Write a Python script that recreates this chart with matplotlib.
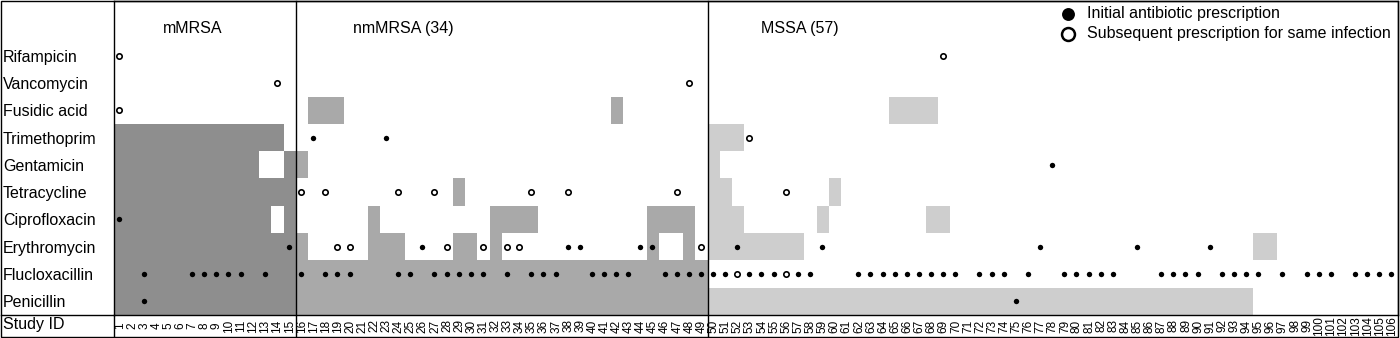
import numpy as np
import matplotlib
matplotlib.use("Agg")
import matplotlib.pyplot as plt
from matplotlib.lines import Line2D
from matplotlib.patches import Rectangle

plt.rcParams["font.family"] = ["Liberation Sans", "DejaVu Sans"]

# antibiotics from bottom row to top row
antibiotics = ["Penicillin", "Flucloxacillin", "Erythromycin", "Ciprofloxacin", "Tetracycline",
               "Gentamicin", "Trimethoprim", "Fusidic acid", "Vancomycin", "Rifampicin"]
study_ids = list(range(1, 107))

groups = ["mMRSA", "nmMRSA (34)", "MSSA (57)"]
group_first_id = [1, 16, 50]
group_last_id = [15, 49, 106]
group_colors = ["#8e8e8e", "#a9a9a9", "#cecece"]

# resistant cells as (first study ID, last study ID) spans
resistant_spans = {
    "Rifampicin": [],
    "Vancomycin": [],
    "Fusidic acid": [(17, 19), (42, 42), (65, 68)],
    "Trimethoprim": [(1, 14), (50, 52)],
    "Gentamicin": [(1, 12), (15, 15), (16, 16), (50, 50)],
    "Tetracycline": [(1, 15), (29, 29), (50, 51), (60, 60)],
    "Ciprofloxacin": [(1, 13), (15, 15), (22, 22), (32, 35), (45, 48), (50, 52), (59, 59), (68, 69)],
    "Erythromycin": [(1, 15), (16, 16), (22, 24), (29, 30), (32, 32), (45, 45), (48, 48),
                     (50, 57), (95, 96)],
    "Flucloxacillin": [(1, 15), (16, 49)],
    "Penicillin": [(1, 15), (16, 49), (50, 94)],
}

initial_rx = {
    "Trimethoprim": [17, 23],
    "Gentamicin": [78],
    "Ciprofloxacin": [1],
    "Erythromycin": [15, 26, 38, 39, 44, 45, 52, 59, 77, 85, 91],
    "Flucloxacillin": [3, 7, 8, 9, 10, 11, 13, 16, 18, 19, 20, 24, 25, 27, 28, 29, 30, 31, 33,
                       35, 36, 37, 40, 41, 42, 43, 46, 47, 48, 49, 50, 51, 53, 54, 55, 57, 58,
                       62, 63, 64, 65, 66, 67, 68, 69, 70, 72, 73, 74, 76, 79, 80, 81, 82, 83,
                       87, 88, 89, 90, 92, 93, 94, 95, 97, 99, 100, 101, 103, 104, 105, 106],
    "Penicillin": [3, 75],
}

subsequent_rx = {
    "Rifampicin": [1, 69],
    "Vancomycin": [14, 48],
    "Fusidic acid": [1],
    "Trimethoprim": [53],
    "Tetracycline": [16, 18, 24, 27, 35, 38, 47, 56],
    "Erythromycin": [19, 20, 28, 31, 33, 34, 49],
    "Flucloxacillin": [52, 56],
}

W, H = 1400, 338
fig = plt.figure(figsize=(W / 100, H / 100), dpi=100)
ax = fig.add_axes([114 / W, (H - 315) / H, (1398 - 114) / W, (315 - 1) / H])
ax.set_xlim(0, 106)
ax.set_ylim(0, 11.5)


def group_color(sid):
    for first, last, col in zip(group_first_id, group_last_id, group_colors):
        if first <= sid <= last:
            return col
    return "white"


# shaded cells
for row, drug in enumerate(antibiotics):
    for first, last in resistant_spans[drug]:
        ax.bar(first - 1, 1, width=last - first + 1, bottom=row, align="edge",
               color=group_color(first), linewidth=0, zorder=1)

# prescriptions
for row, drug in enumerate(antibiotics):
    ids = np.array(initial_rx.get(drug, []))
    if len(ids):
        ax.scatter(ids - 0.55, np.full(len(ids), row + 0.5), s=15, color="black",
                   linewidths=0, zorder=4)
    ids = np.array(subsequent_rx.get(drug, []))
    if len(ids):
        ax.scatter(ids - 0.55, np.full(len(ids), row + 0.5), s=15, facecolor="white",
                   edgecolor="black", linewidths=1.2, zorder=4)

# legend
h1 = ax.scatter([], [], s=15, color="black", linewidths=0)
h2 = ax.scatter([], [], s=15, facecolor="white", edgecolor="black", linewidths=1.8)
ax.legend([h1, h2], ["Initial antibiotic prescription", "Subsequent prescription for same infection"],
          loc="upper left", bbox_to_anchor=(1060 / W, 1 - 6 / H), bbox_transform=fig.transFigure,
          frameon=False, markerscale=2.4, fontsize=11.5, handlelength=1.0, handletextpad=0.7,
          labelspacing=0.3, borderpad=0, borderaxespad=0)

# group titles
for name, xpos in zip(groups, [6.5, 23.9, 56.6]):
    ax.text(xpos, 10.5, name, ha="center", va="center", fontsize=11.5)

# group separators through the Study ID row
ext = -22 / 314
for last in group_last_id[:-1]:
    ax.axvline(last, ymin=ext, ymax=1, color="black", lw=1.0, clip_on=False, zorder=5)
ax.axvline(0, ymin=ext, ymax=0, color="black", lw=1.0, clip_on=False, zorder=5)

for sp in ax.spines.values():
    sp.set_linewidth(1.0)

ax.set_xticks(np.array(study_ids) - 0.5, labels=[str(i) for i in study_ids],
              rotation=90, fontsize=8.5)
for lbl in ax.get_xticklabels():
    lbl.set_va("center")
ax.tick_params(axis="x", length=0, pad=7.9)

ax.set_yticks(np.arange(len(antibiotics)) + 0.5, labels=antibiotics, fontsize=11.5)
for lbl in ax.get_yticklabels():
    lbl.set_ha("left")
ax.tick_params(axis="y", length=0, pad=80)

fig.text(3 / W, (H - 325) / H, "Study ID", ha="left", va="center", fontsize=11.5)

# outer frame and label-column line
fig.add_artist(Rectangle((1 / W, 1 / H), 1397 / W, 336 / H, fill=False, lw=1.0,
                         edgecolor="black", transform=fig.transFigure))
fig.add_artist(Line2D([1 / W, 114 / W], [(H - 315) / H] * 2, color="black", lw=1.0,
                      transform=fig.transFigure))

fig.savefig("out.png", dpi=100)
